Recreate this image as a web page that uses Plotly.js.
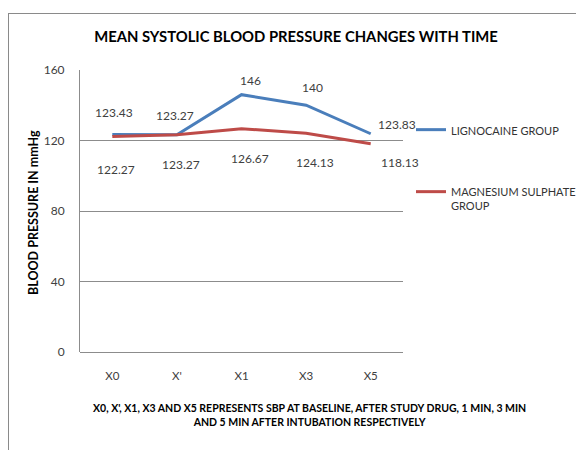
<!DOCTYPE html>
<html>
<head>
<meta charset="utf-8">
<script src="https://cdn.plot.ly/plotly-3.0.1.min.js"></script>
<style>
  html, body { margin: 0; padding: 0; background: #fff; }
  #wrap { position: relative; width: 576px; height: 450px; overflow: hidden; }
  #frame { position: absolute; left: 8px; top: 13px; width: 620px; height: 500px; border: 1px solid #8a8a8a; pointer-events: none; }
  #chart { position: absolute; left: 0; top: 0; width: 576px; height: 450px; }
</style>
</head>
<body>
<div id="wrap">
  <div id="frame"></div>
  <div id="chart"></div>
</div>
<script>
// ---- data ----
const categories = ["X0", "X'", "X1", "X3", "X5"];
const lignocaine = [123.43, 123.27, 146, 140, 123.83];
const magnesium = [122.27, 123.27, 126.67, 124.13, 118.13];
const seriesNames = ["LIGNOCAINE GROUP", "MAGNESIUM SULPHATE<br>GROUP"];
const yTicks = [0, 40, 80, 120, 160];

// ---- styling ----
const FONT = "Lato, 'Liberation Sans', Arial, sans-serif";
const BLUE = "#4A7EBB";
const RED = "#BE4B48";
const W = 576, H = 450;
const PL = 80, PR = 403, PT = 70, PB = 352; // plot area in px
// label offsets (pixels) mimicking the original data-label placement
const blueShift = [[2, 22], [-2, 19], [9, 14], [6, 18], [26, 9]];
const redShift = [[4, -33], [4, -30], [8, -30], [9, -29], [29, -19]];

const traces = [
  { x: categories, y: lignocaine, name: seriesNames[0], type: "scatter", mode: "lines",
    line: { color: BLUE, width: 3 }, legendgroup: "a", hoverinfo: "skip" },
  { x: categories, y: magnesium, name: seriesNames[1], type: "scatter", mode: "lines",
    line: { color: RED, width: 3 }, legendgroup: "b", hoverinfo: "skip" }
];

const annotations = [];
function addLabels(vals, shifts) {
  vals.forEach((v, i) => {
    annotations.push({ x: categories[i], y: v, xref: "x", yref: "y", text: String(v),
      showarrow: false, xshift: shifts[i][0], yshift: shifts[i][1],
      font: { family: FONT, size: 12, color: "#404040" } });
  });
}
addLabels(lignocaine, blueShift);
addLabels(magnesium, redShift);

const px2x = p => (p - PL) / (PR - PL);
const py2y = p => (PB - p) / (PB - PT);

// y-axis title
annotations.push({ xref: "paper", yref: "paper", x: px2x(33), y: py2y(213), xanchor: "center", yanchor: "middle",
  text: "<b>BLOOD PRESSURE IN mmHg</b>", textangle: -90, showarrow: false,
  font: { family: FONT, size: 12.5, color: "#000" } });
// x-axis title (two lines)
annotations.push({ xref: "paper", yref: "paper", x: px2x(309), y: py2y(400), xanchor: "center", yanchor: "top",
  text: "<b>X0, X', X1, X3 AND X5 REPRESENTS SBP AT BASELINE, AFTER STUDY DRUG, 1 MIN, 3 MIN<br>AND 5 MIN AFTER INTUBATION RESPECTIVELY</b>",
  showarrow: false, align: "center", font: { family: FONT, size: 10.5, color: "#000" } });

const layout = {
  width: W, height: H,
  paper_bgcolor: "rgba(0,0,0,0)", plot_bgcolor: "rgba(0,0,0,0)",
  margin: { l: PL, r: W - PR, t: PT, b: H - PB },
  title: { text: "<b>MEAN SYSTOLIC BLOOD PRESSURE CHANGES WITH TIME</b>",
    font: { family: FONT, size: 14.8, color: "#000" }, x: 296 / W, xanchor: "center", y: 1 - 37 / H, yanchor: "middle" },
  xaxis: { type: "category", categoryarray: categories, range: [-0.5, categories.length - 0.5],
    showgrid: false, zeroline: false, showline: false, ticks: "", ticklabelstandoff: 15,
    tickfont: { family: FONT, size: 11.5, color: "#404040" }, fixedrange: true },
  yaxis: { range: [0, 160], tickvals: yTicks, showgrid: true, gridcolor: "#8c8c8c", gridwidth: 1,
    zeroline: true, zerolinecolor: "#8c8c8c", zerolinewidth: 1,
    showline: true, linecolor: "#8c8c8c", linewidth: 1, ticks: "", ticklabelstandoff: 12,
    tickfont: { family: FONT, size: 12, color: "#404040" }, fixedrange: true },
  showlegend: true,
  legend: { xref: "container", yref: "container", x: 411 / W, xanchor: "left", y: 1 - 116 / H, yanchor: "top",
    traceorder: "grouped", tracegroupgap: 43, itemwidth: 30, valign: "top",
    font: { family: FONT, size: 11, color: "#333" }, bgcolor: "rgba(0,0,0,0)" },
  annotations: annotations
};

Plotly.newPlot("chart", traces, layout, { staticPlot: true, displayModeBar: false });
</script>
</body>
</html>
